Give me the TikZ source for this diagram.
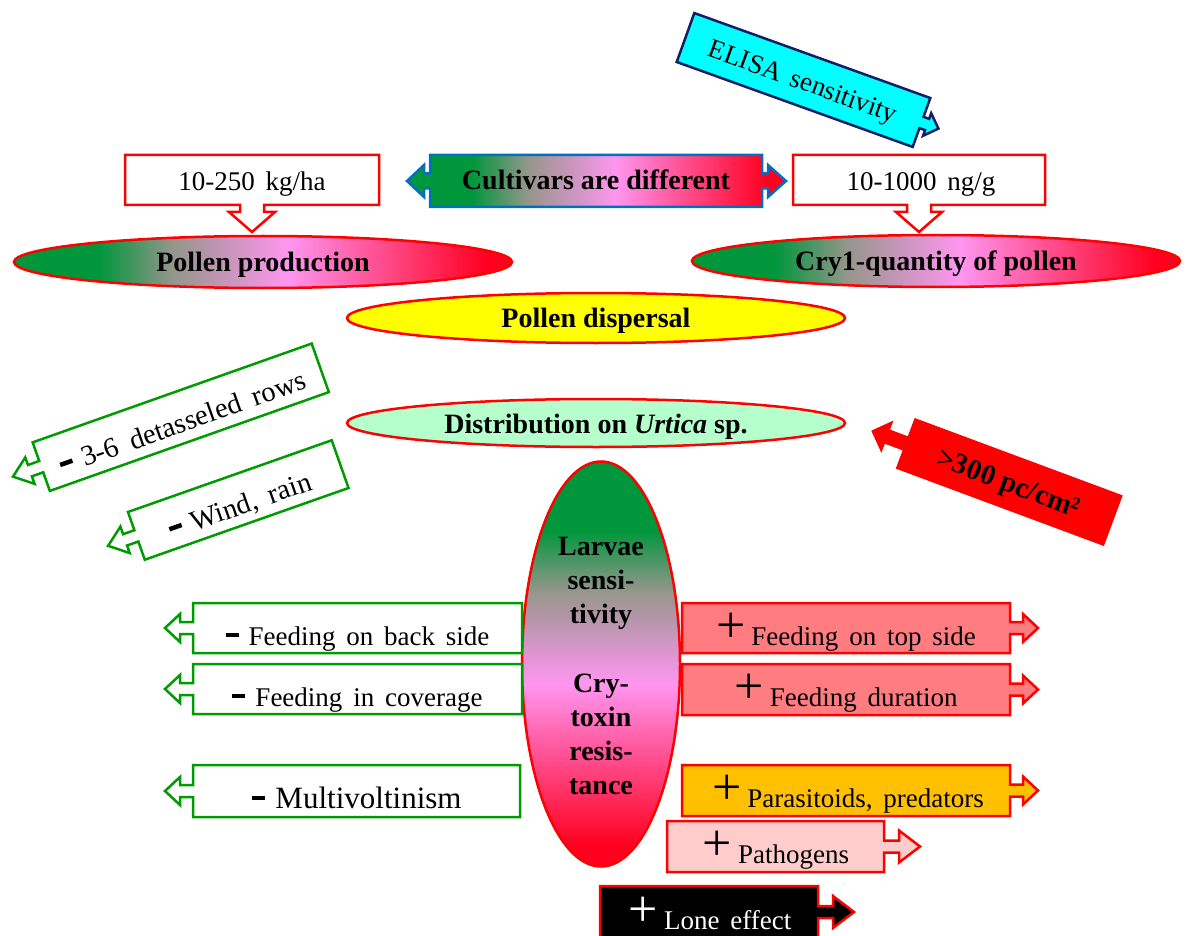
\documentclass[tikz,border=0pt]{standalone}
\usepackage{fontspec}
\setmainfont{Liberation Serif}
\usetikzlibrary{shapes.geometric}
\definecolor{sgreen}{RGB}{0,150,60}
\definecolor{sgray}{RGB}{150,150,140}
\definecolor{spink}{RGB}{255,150,240}
\definecolor{shot}{RGB}{255,90,160}
\definecolor{sred}{RGB}{255,0,30}
\definecolor{bgreen}{RGB}{0,155,0}
\definecolor{bred}{RGB}{255,0,0}
\definecolor{bblue}{RGB}{0,112,192}
\definecolor{navyb}{RGB}{20,30,100}
\definecolor{cyanf}{RGB}{0,255,255}
\definecolor{salmonf}{RGB}{255,124,128}
\definecolor{orangef}{RGB}{255,192,0}
\definecolor{pinkf}{RGB}{255,204,204}
\definecolor{mintf}{RGB}{180,255,204}
\definecolor{yellf}{RGB}{255,255,0}
\pgfdeclarehorizontalshading{gprh}{100bp}{color(0bp)=(sgreen); color(33.5bp)=(sgreen); color(41bp)=(sgray); color(52.5bp)=(spink); color(60bp)=(shot); color(72.5bp)=(sred); color(100bp)=(sred)}
\pgfdeclareverticalshading{gprv}{100bp}{color(0bp)=(sred); color(27.5bp)=(sred); color(40bp)=(shot); color(47.5bp)=(spink); color(59bp)=(sgray); color(66.5bp)=(sgreen); color(100bp)=(sgreen)}
\newcommand\fRg{\fontsize{27}{30}\selectfont\spaceskip=0.4em plus 0.1em}
\newcommand\fRgB{\fontsize{28.5}{30}\selectfont\spaceskip=0.45em plus 0.1em}
\newcommand\fBd{\fontsize{28}{30}\selectfont\bfseries}
\newcommand\minusbar{\rule[8pt]{13pt}{4.5pt}\hspace{10pt}}
\newcommand\plussign{\raisebox{3pt}{\fontsize{52}{52}\selectfont +}\hspace{6pt}}
\def\aSt{6}\def\aHd{14}\def\aSl{13}\def\aHl{15}
% callout box: style, center, angle, direction (1 right / -1 left), half length, half height
\newcommand\cbox[6]{%
  \begin{scope}[shift={#2},rotate=#3,xscale=#4]
    \draw[#1] (-#5,-#6) -- (#5,-#6) -- (#5,-\aSt) -- ({#5+\aSl},-\aSt) -- ({#5+\aSl},-\aHd)
      -- ({#5+\aSl+\aHl},0) -- ({#5+\aSl},\aHd) -- ({#5+\aSl},\aSt) -- (#5,\aSt) -- (#5,#6) -- (-#5,#6) -- cycle;
  \end{scope}}
% text: name, center, angle, baseline offset, text
\newcommand\ctext[5]{%
  \begin{scope}[shift={#2},rotate=#3]
    \node[transform shape,anchor=base,inner sep=0pt] (#1) at (0,#4) {#5};
  \end{scope}}
\tikzset{
  redbox/.style={draw=bred,fill=white,line width=2.5pt},
  greenbox/.style={draw=bgreen,fill=white,line width=2.5pt},
  elisabox/.style={draw=navyb,fill=cyanf,line width=2.5pt},
  ell/.style={ellipse,draw=bred,line width=2.5pt,inner sep=0pt},
  txt/.style={anchor=base,inner sep=0pt}
}
\begin{document}
\begin{tikzpicture}[x=1pt,y=-1pt,line join=miter]
\useasboundingbox (0,0) rectangle (1189,936);
\clip (0,0) rectangle (1189,936);
\fill[white] (0,0) rectangle (1189,936);

% ELISA
\def\aSt{6}\def\aHd{12}\def\aSl{6}\def\aHl{12}
\cbox{elisabox}{(803.5,80)}{-19.8}{1}{125.4}{26}
\ctext{elisa}{(803.5,80)}{-19.8}{10}{\fRg ELISA sensitivity}

% Cultivars
\shadedraw[shading=gprh,draw=bblue,line width=2.5pt]
  (430,155) -- (762,155) -- (762,173.5) -- (768,173.5) -- (768,165) -- (786,181) -- (768,197)
  -- (768,188.5) -- (762,188.5) -- (762,207) -- (430,207) -- (430,188.5) -- (424,188.5)
  -- (424,197) -- (407,181) -- (424,165) -- (424,173.5) -- (430,173.5) -- cycle;
\node[txt] (cult) at (596,190) {\fBd Cultivars are different};

% top boxes
\def\aSt{12}\def\aHd{23}\def\aSl{7}\def\aHl{20}
\cbox{redbox}{(252,180)}{-90}{1}{25}{127}
\node[txt] (kg) at (252,191) {\fRg 10-250 kg/ha};
\cbox{redbox}{(919,180)}{-90}{1}{25}{126}
\node[txt] (ng) at (921,191) {\fRg 10-1000 ng/g};

% ellipses
\node[ell,shade,shading=gprh,minimum width=498pt,minimum height=52pt] (pp) at (263,262) {};
\node[txt] (ppt) at (263,272) {\fBd Pollen production};
\node[ell,shade,shading=gprh,minimum width=488pt,minimum height=52pt] (cq) at (936,261) {};
\node[txt] (cqt) at (936,271) {\fBd Cry1-quantity of pollen};
\node[ell,fill=yellf,minimum width=498pt,minimum height=50pt] (pd) at (596,318) {};
\node[txt] (pdt) at (596,327) {\fBd Pollen dispersal};
\node[ell,fill=mintf,minimum width=498pt,minimum height=48pt] (du) at (596,423) {};
\node[txt] (dut) at (596,433) {\fBd Distribution on \textit{Urtica} sp.};

% rotated left boxes
\def\aSt{6}\def\aHd{14}\def\aSl{12}\def\aHl{18}
\cbox{greenbox}{(180.75,417.25)}{19.5}{-1}{148}{25.75}
\ctext{det}{(180.75,417.25)}{19.5}{15}{\fRgB\minusbar 3-6 detasseled rows}
\cbox{greenbox}{(238.25,500)}{19.4}{-1}{108}{25.3}
\ctext{wind}{(238.25,500)}{19.4}{15}{\fRgB\minusbar Wind, rain}

% >300
\def\aSt{7}\def\aHd{16}\def\aSl{20}\def\aHl{16}
\cbox{draw=bred,fill=bred,line width=1pt}{(1009.25,482)}{-20.4}{-1}{110.5}{26.5}
\ctext{dens}{(1009.25,482)}{-20.4}{10}{\fontsize{29}{30}\selectfont\bfseries >300 pc/cm²}

% central ellipse
\node[ell,shade,shading=gprv,minimum width=158pt,minimum height=405pt] (lv) at (601,664) {};
\node[txt] (l1) at (601,555) {\fBd Larvae};
\node[txt] (l2) at (601,589) {\fBd sensi-};
\node[txt] (l3) at (601,623) {\fBd tivity};
\node[txt] (c1) at (601,692) {\fBd Cry-};
\node[txt] (c2) at (601,726) {\fBd toxin};
\node[txt] (c3) at (601,760) {\fBd resis-};
\node[txt] (c4) at (601,794) {\fBd tance};

% left horizontal boxes
\def\aSt{6}\def\aHd{14}\def\aSl{13}\def\aHl{15}
\cbox{greenbox}{(357.5,628)}{0}{-1}{164.5}{25}
\node[txt] (back) at (357.5,645) {\fRg\minusbar Feeding on back side};
\cbox{greenbox}{(357.5,689)}{0}{-1}{164.5}{25}
\node[txt] (cov) at (357.5,706) {\fRg\minusbar Feeding in coverage};
\cbox{greenbox}{(356.5,791)}{0}{-1}{163.5}{26}
\node[txt] (mult) at (357,808) {\fontsize{31}{32}\selectfont\minusbar Multivoltinism};

% right horizontal boxes
\cbox{draw=bred,fill=salmonf,line width=2.5pt}{(846,628)}{0}{1}{164}{25}
\node[txt] (top) at (846,645) {\fRg\plussign Feeding on top side};
\cbox{draw=bred,fill=salmonf,line width=2.5pt}{(846,689.5)}{0}{1}{164}{25.5}
\node[txt] (dur) at (846,706) {\fRg\plussign Feeding duration};
\cbox{draw=bred,fill=orangef,line width=2.5pt}{(846,790.5)}{0}{1}{164}{25.5}
\node[txt] (para) at (848,807) {\fRg\plussign Parasitoids, predators};
\def\aSt{6}\def\aHd{16}\def\aSl{15}\def\aHl{21}
\cbox{draw=bred,fill=pinkf,line width=2.5pt}{(775.5,846.5)}{0}{1}{108.5}{25.5}
\node[txt] (path) at (776,863) {\fRg\plussign Pathogens};
\cbox{draw=bred,fill=black,line width=2.5pt}{(709,912)}{0}{1}{109}{26}
\node[txt,text=white] (lone) at (710,929) {\fRg\plussign Lone effect};
\end{tikzpicture}
\end{document}
